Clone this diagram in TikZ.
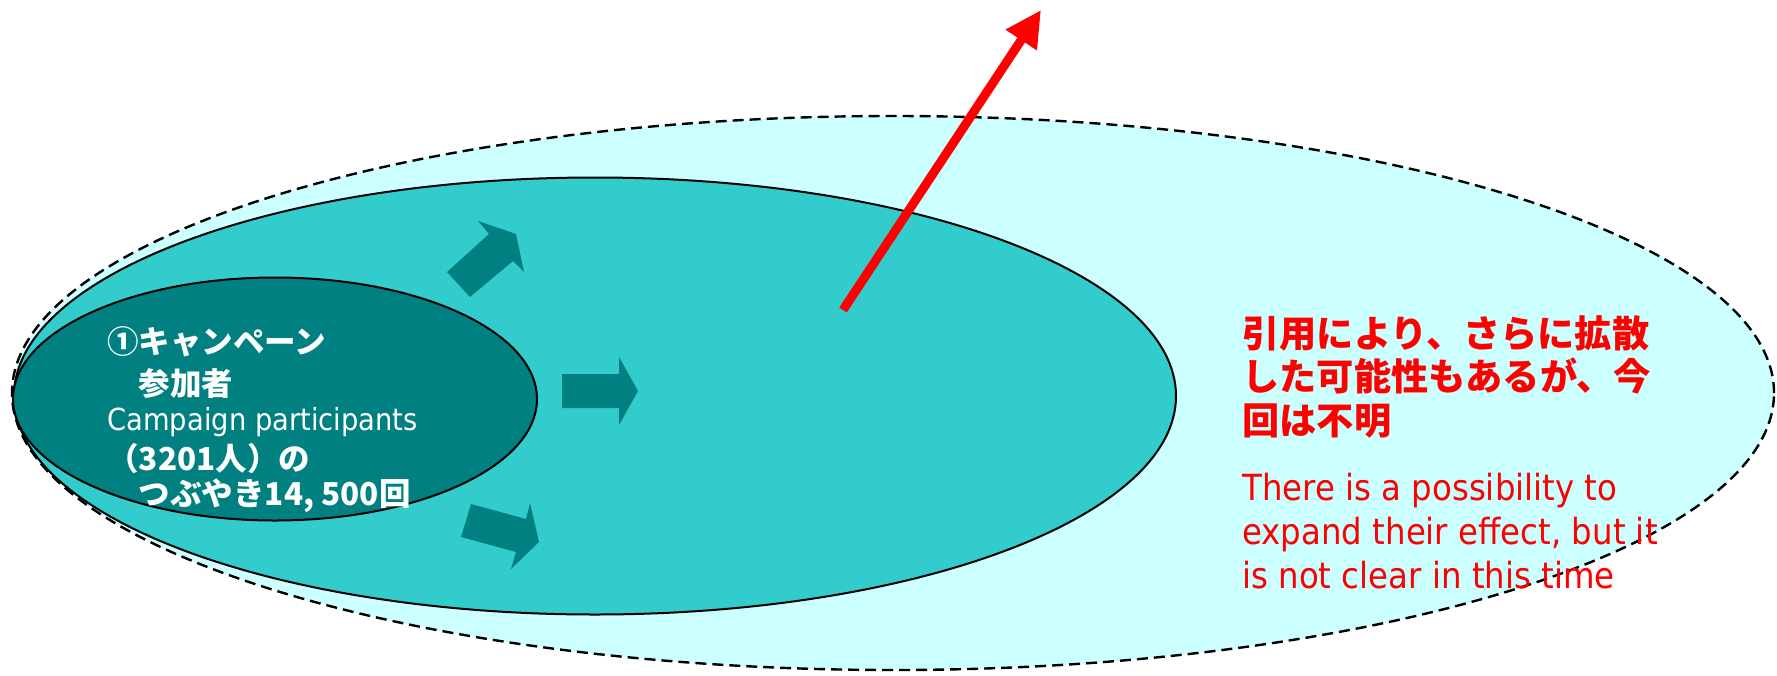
\documentclass[tikz,border=0pt]{standalone}
\usepackage{fontspec}
\usetikzlibrary{shapes.geometric,arrows.meta}
\newfontfamily\jpfont{Noto Sans CJK JP}
\newfontfamily\enfont{DejaVu Sans}[FakeStretch=0.9]
\definecolor{paleaqua}{HTML}{CCFFFF}
\definecolor{midaqua}{HTML}{33CCCC}
\definecolor{deepteal}{HTML}{008080}
\begin{document}
\begin{tikzpicture}[x=0.5pt, y=0.5pt,
    zone/.style={ellipse, draw, inner sep=0pt, line width=1pt},
    blockarrow/.style={fill=deepteal},
    redarrow/.style={draw=red, line width=4.5pt, -{Triangle[length=18pt, width=17.5pt]}},
    rednote/.style={anchor=base west, align=left, inner sep=0pt, text=red}]
    \useasboundingbox (0,0) rectangle (1777,-675);

    % Zonas
    \node[zone, fill=paleaqua, line width=1.2pt, dash pattern=on 5.5pt off 3pt,
          minimum width=881pt, minimum height=277pt] (spread) at (893,-393) {};
    \node[zone, fill=midaqua, minimum width=581pt, minimum height=218.5pt] (reach) at (595,-396) {};
    \node[zone, fill=deepteal, minimum width=262pt, minimum height=121.5pt] (campaign) at (275,-399) {};

    % Flechas de difusion
    \fill[blockarrow] (447,-272) -- (489,-234) -- (478,-221) -- (516,-234)
        -- (524,-272) -- (513,-261) -- (470,-297) -- cycle;
    \fill[blockarrow] (562,-374) -- (619,-374) -- (619,-357) -- (638,-391)
        -- (619,-425) -- (619,-408) -- (562,-408) -- cycle;
    \fill[blockarrow] (471,-504) -- (526,-519) -- (530,-503) -- (539,-542)
        -- (511,-569) -- (516,-552) -- (461,-537) -- cycle;

    % Cita
    \coordinate (quotestart) at (843,-310);
    \coordinate (quoteend) at (1041,-10);
    \draw[redarrow] (quotestart) -- (quoteend);

    % Textos
    \node[anchor=base west, align=left, inner sep=0pt, text=white,
          font=\fontsize{15.75pt}{17.5pt}\selectfont] (campaigntext) at (107,-505)
        {{\jpfont\bfseries ①キャンペーン}\\[3.5pt]
         {\jpfont\bfseries 　参加者}\\
         {\enfont\fontsize{15.2pt}{17.5pt}\selectfont Campaign participants}\\[2.5pt]
         {\jpfont\bfseries （3201人）の}\\
         {\jpfont\bfseries 　つぶやき14, 500回}};
    \node[rednote, font=\jpfont\bfseries\fontsize{18.6pt}{21.75pt}\selectfont] (notejp) at (1242,-434)
        {引用により、さらに拡散\\した可能性もあるが、今\\回は不明};
    \node[rednote, font=\enfont\fontsize{18pt}{22pt}\selectfont] (noteen) at (1242,-588)
        {There is a possibility to\\expand their effect, but it\\is not clear in this time};
\end{tikzpicture}
\end{document}
